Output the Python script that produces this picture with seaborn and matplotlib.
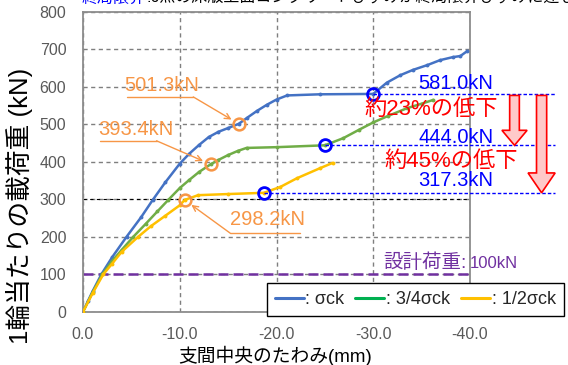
import matplotlib
matplotlib.use("Agg")
import matplotlib.pyplot as plt
import seaborn as sns
import pandas as pd
from matplotlib.lines import Line2D
from matplotlib.patches import FancyArrow

# Mid-span deflection (mm, downward = negative) vs. load per wheel (kN)
defl_full = [0, -0.5, -1, -1.9, -3, -4.5, -6, -7.2, -8.5, -10, -11, -12, -13, -14, -15,
             -16.1, -17, -18, -19, -20, -21.1, -24.5, -30, -31.4, -32.8, -34.1, -35.6,
             -36.9, -38.2, -39, -39.7]
load_full = [0, 28, 55, 100, 145, 200, 252, 298, 345, 395, 422, 445, 466, 480, 490,
             501.3, 518, 536, 552, 566, 577, 580, 581, 611, 631, 645, 658,
             671, 679, 682, 695]

defl_34 = [0, -1, -2, -3, -4, -5.2, -6.5, -7.7, -8.8, -10, -11, -12, -13.2, -14, -15,
           -16, -16.9, -20, -25, -26.9, -28.5, -30, -31.5, -33.5, -35, -36.2]
load_34 = [0, 52, 100, 135, 165, 200, 235, 268, 298, 330, 352, 373, 393.4, 405, 418,
           429, 437, 439, 444, 463, 485, 505, 522, 543, 555, 565]

defl_12 = [0, -1, -2.1, -3, -4, -5.7, -7, -8.5, -10, -10.5, -11.9, -15, -18.7,
           -20.4, -22.1, -24.5, -25.8]
load_12 = [0, 50, 100, 128, 160, 200, 228, 256, 284, 298.2, 311, 314, 317.3,
           333, 356, 383, 397]

series_labels = [": σck", ": 3/4σck", ": 1/2σck"]
line_colors = ["#4472C4", "#70AD47", "#FFC000"]
legend_colors = ["#4472C4", "#00B050", "#FFC000"]

# Yield-like knee points (orange) and ultimate points (blue)
knee_defl = [-16.1, -13.2, -10.5]
knee_load = [501.3, 393.4, 298.2]
ult_defl = [-30.0, -25.0, -18.7]
ult_load = [581.0, 444.0, 317.3]
reduction_text = ["約23%の低下", "約45%の低下"]
design_load = 100

x_ticks = [0, -10, -20, -30, -40]
y_ticks = [0, 100, 200, 300, 400, 500, 600, 700, 800]

sns.set_style("white")
plt.rcParams["font.family"] = ["Liberation Sans", "Noto Sans CJK JP"]

fig = plt.figure(figsize=(5.68, 3.65), dpi=100)
ax = fig.add_axes([83 / 568, 1 - 311.8 / 365, 387 / 568, 300 / 365])

frames = [
    pd.DataFrame({"defl": defl_full, "load": load_full}),
    pd.DataFrame({"defl": defl_34, "load": load_34}),
    pd.DataFrame({"defl": defl_12, "load": load_12}),
]
for df, col in zip(frames, line_colors):
    sns.lineplot(data=df, x="defl", y="load", ax=ax, color=col, lw=1.8,
                 marker="o", markersize=2.8, markeredgewidth=0,
                 sort=False, estimator=None, legend=False, zorder=3)

ax.set_xlim(0, -40)
ax.set_ylim(0, 800)
ax.set_xticks(x_ticks)
ax.set_xticklabels([f"{v:.1f}" for v in x_ticks])
ax.set_yticks(y_ticks)
ax.grid(True, color="#7F7F7F", linestyle=(0, (3, 2.5)), lw=1.0)
ax.axhline(300, color="black", linestyle=(0, (3, 3)), lw=0.8, zorder=1)
for s in ax.spines.values():
    s.set_color("#8C8C8C")
    s.set_linewidth(1.3)
ax.tick_params(axis="both", length=0, labelsize=11.5, colors="#595959")
ax.tick_params(axis="y", pad=12)
ax.tick_params(axis="x", pad=11)

ax.set_xlabel("支間中央のたわみ(mm)", fontsize=13.5, color="black", va="center")
ax.xaxis.set_label_coords(0.496, -0.147)
ax.set_ylabel("1輪当たりの載荷重 (kN)", fontsize=18.5, color="black", va="center")
ax.yaxis.set_label_coords(-0.163, 0.353)

# design load
ax.axhline(design_load, color="#7030A0", linestyle=(0, (4, 2)), lw=1.8, zorder=2)
ax.text(-31.0, 118, "設計荷重:", color="#7030A0", fontsize=14, va="baseline", ha="left")
ax.text(-40.0, 118, f"{design_load}kN", color="#7030A0", fontsize=12, va="baseline",
        ha="left", clip_on=False)

orange = "#F79646"
blue = "#0000FF"

# knee markers with labels
ax.plot(knee_defl, knee_load, "o", ms=8.5, mfc="none", mec=orange, mew=1.8, zorder=5)
knee_text_xy = [(-8.1, 603), (-5.5, 485), (-19.1, 245)]
knee_line = [((-4.5, 573), (-11.4, 573)), ((-1.8, 456), (-7.6, 456)),
             ((-22.4, 210), (-15.2, 210))]
for (tx, ty), (p0, p1), kx, ky in zip(knee_text_xy, knee_line, knee_defl, knee_load):
    ax.text(tx, ty, f"{ky:.1f}kN", color=orange, fontsize=14.5, ha="center", va="center")
    ax.plot([p0[0], p1[0]], [p0[1], p1[1]], color=orange, lw=1.0, zorder=4)
    ax.annotate("", xy=(kx, ky), xytext=p1,
                arrowprops=dict(arrowstyle="->", color=orange, lw=1.0,
                                shrinkA=0, shrinkB=6), zorder=4)

# ultimate markers, reference lines and labels
ax.plot(ult_defl, ult_load, "o", ms=8.5, mfc="none", mec=blue, mew=2.0, zorder=6)
label_y = [609, 466, 350]
for ux, uy, ly in zip(ult_defl, ult_load, label_y):
    ax.plot([ux, -48.8], [uy, uy], color=blue, linestyle=(0, (2.5, 1.5)), lw=1.0,
            clip_on=False, zorder=4)
    ax.text(-42.4, ly, f"{uy:.1f}kN", color=blue, fontsize=14.5, ha="right",
            va="center", clip_on=False)

# reduction notes and arrows
ax.text(-36.0, 541, reduction_text[0], color="red", fontsize=16, ha="center",
        va="center", clip_on=False, zorder=7)
ax.text(-38.1, 402, reduction_text[1], color="red", fontsize=16, ha="center",
        va="center", clip_on=False, zorder=7)
arrow_specs = [(-44.6, ult_load[1], 1.0, 2.6, 40), (-47.4, ult_load[2], 1.05, 2.8, 53)]
for ax_x, tip, w, hw, hl in arrow_specs:
    arr = FancyArrow(ax_x, ult_load[0] - 4, 0, tip - (ult_load[0] - 4), width=w,
                     length_includes_head=True, head_width=hw, head_length=hl,
                     fc="#FFC9C9", ec="red", lw=1.2, clip_on=False, zorder=5)
    ax.add_patch(arr)

# legend
handles = [Line2D([], [], color=c, lw=2.2) for c in legend_colors]
leg = fig.legend(handles, series_labels, loc="center", ncol=3,
                 bbox_to_anchor=(0.731, 0.179), bbox_transform=fig.transFigure,
                 fontsize=13, frameon=True, fancybox=False, framealpha=1,
                 edgecolor="black", handlelength=1.6, handletextpad=0.1,
                 columnspacing=0.6, borderpad=0.45, borderaxespad=0)
leg.get_frame().set_linewidth(1.0)
leg.set_zorder(10)

# heading line (partly above the canvas)
fig.text(82 / 568, 1.0 + 2.0 / 365, "終局限界", color=blue, fontsize=11.5, ha="left",
         va="center")
fig.text(146 / 568, 1.0 + 2.0 / 365, ":6点の床版上面コンクリートひずみが終局限界ひずみに達し",
         color="black", fontsize=11.5, ha="left", va="center")

fig.savefig("out.png", dpi=100)
